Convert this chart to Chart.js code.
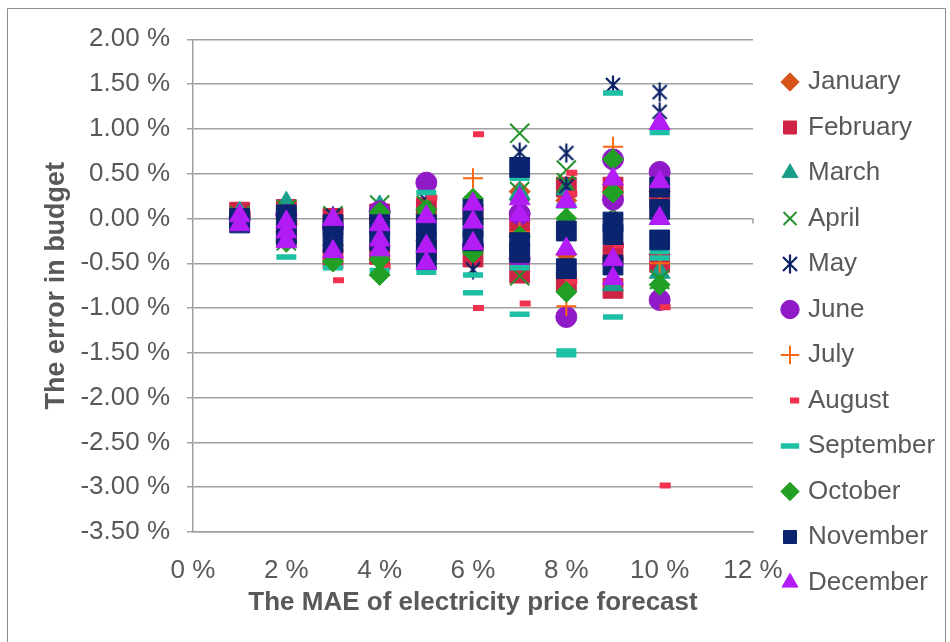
<!DOCTYPE html>
<html>
<head>
<meta charset="utf-8">
<script src="https://cdn.jsdelivr.net/npm/chart.js@4/dist/chart.umd.min.js"></script>
<style>
  html, body { margin: 0; padding: 0; background: #fff; }
  canvas { display: block; }
</style>
</head>
<body>
<canvas id="myChart" width="950" height="642"></canvas>
<script>
// MAE levels on the x axis (%)
var maeLevels = [1, 2, 3, 4, 5, 6, 7, 8, 9, 10];

// budget error (%) per month, one list per MAE level
var january   = [[0.02], [0.05, -0.15], [-0.1, -0.3], [0.0, -0.3], [0.05, -0.25], [0.1, -0.3], [0.3, -0.3], [0.2, -0.4], [0.3, -0.45], [0.3, -0.4]];
var february  = [[0.07], [0.1, -0.2], [0.0, -0.45], [0.05, -0.4], [0.12, -0.35], [0.05, -0.43], [-0.1, -0.61], [0.35, -0.7], [0.35, -0.41, -0.78], [0.24, -0.49]];
var march     = [[0.06], [0.17], [-0.05], [0.13], [0.05], [0.0], [0.28], [0.33], [-0.74], [0.0, -0.6]];
var april     = [[0.03], [0.1, -0.25], [0.03], [0.15, -0.52], [0.15], [-0.3], [0.95, 0.3, -0.64], [0.54, 0.4], [0.1], [-0.68]];
var may       = [[0.02], [0.0], [0.03], [0.08], [0.2], [-0.57], [0.74], [0.73, 0.36], [1.49], [1.41, 1.19]];
var june      = [[0.0], [0.04], [-0.1], [0.08], [0.4], [-0.3], [0.05, -0.45], [-1.1], [0.66, 0.21], [0.52, -0.91]];
var july      = [[0.0], [-0.1], [-0.2], [-0.1], [0.0], [0.45], [-0.15], [-0.65, -0.98], [0.8, -0.6], [0.25, -0.5]];
var august    = [[0.05], [-0.05], [-0.69], [-0.54], [0.23], [0.94, -1.0], [-0.95], [0.51, 0.28, -0.7], [-0.3], [-0.99, -2.98]];
var september = [[-0.03], [-0.27, -0.43], [-0.55], [-0.58], [0.29, -0.6], [-0.63, -0.83], [0.45, -0.55, -1.07], [0.14, -1.48, -1.52], [1.4, -1.1], [0.96, -0.37, -0.44]];
var october   = [[-0.02], [-0.26], [-0.48], [0.07, -0.46, -0.63], [0.1], [0.22, -0.38], [-0.2], [0.0, -0.82], [0.66, 0.29], [-0.74]];
var november  = [[0.0, -0.05], [0.04, -0.18], [-0.07, -0.27], [-0.07, -0.25], [-0.07, -0.27, -0.46], [0.1, -0.1, -0.25], [0.57, -0.27, -0.38], [-0.14, -0.56], [-0.04, -0.18, -0.52], [0.35, 0.1, -0.24]];
var december  = [[0.03, -0.07], [-0.04, -0.15, -0.26], [-0.01, -0.37], [-0.07, -0.24, -0.35], [0.02, -0.31, -0.5], [0.16, -0.04, -0.28], [0.22, 0.04], [0.19, -0.34], [0.44, -0.46, -0.67], [1.06, 0.41, 0.0]];

var monthNames = ['January', 'February', 'March', 'April', 'May', 'June', 'July', 'August', 'September', 'October', 'November', 'December'];
var monthValues = [january, february, march, april, may, june, july, august, september, october, november, december];

var textColor = '#595959';
var gridColor = '#a0a0a0';

// asterisk marker (x with a vertical bar)
function starMarker(color) {
	var c = document.createElement('canvas');
	c.width = 20; c.height = 20;
	var g = c.getContext('2d');
	g.strokeStyle = color;
	g.lineWidth = 2.2;
	g.beginPath();
	g.moveTo(3, 3); g.lineTo(17, 17);
	g.moveTo(17, 3); g.lineTo(3, 17);
	g.moveTo(10, 0.5); g.lineTo(10, 19.5);
	g.stroke();
	return c;
}

// marker look for each month
var markers = [
	{ pointStyle: 'rectRot', color: '#d6541a', radius: 10.5, borderWidth: 1 },
	{ pointStyle: 'rect', color: '#cf2346', radius: 14, borderWidth: 1 },
	{ pointStyle: 'triangle', color: '#199e8a', radius: 12, borderWidth: 1 },
	{ pointStyle: 'crossRot', color: '#22922a', radius: 13.5, borderWidth: 2 },
	{ pointStyle: starMarker('#0c2266'), color: '#0c2266', radius: 10, borderWidth: 2 },
	{ pointStyle: 'circle', color: '#9019c8', radius: 10.5, borderWidth: 1 },
	{ pointStyle: 'cross', color: '#ff6611', radius: 10, borderWidth: 2 },
	{ pointStyle: 'dash', color: '#f2324f', radius: 11, borderWidth: 6 },
	{ pointStyle: 'line', color: '#1dbfa5', radius: 10, borderWidth: 5.5 },
	{ pointStyle: 'rectRot', color: '#22a025', radius: 10.5, borderWidth: 1 },
	{ pointStyle: 'rect', color: '#0a2470', radius: 14, borderWidth: 1 },
	{ pointStyle: 'triangle', color: '#b31cf5', radius: 12, borderWidth: 1 }
];

function toPoints(perLevel) {
	var pts = [];
	perLevel.forEach(function (vals, i) {
		vals.forEach(function (v) { pts.push({ x: maeLevels[i], y: v }); });
	});
	return pts;
}

var datasets = monthNames.map(function (name, i) {
	var m = markers[i];
	return {
		label: name,
		data: toPoints(monthValues[i]),
		pointStyle: m.pointStyle,
		pointRadius: m.radius,
		pointHoverRadius: m.radius,
		backgroundColor: m.color,
		borderColor: m.color,
		borderWidth: m.borderWidth,
		order: monthNames.length - i // later months drawn on top
	};
});

// frame, legend placement and the small ticks on the zero line
var chartDecor = {
	id: 'chartDecor',
	beforeDraw: function (chart) {
		var ctx = chart.ctx;
		ctx.save();
		ctx.fillStyle = '#fff';
		ctx.fillRect(0, 0, chart.width, chart.height);
		ctx.strokeStyle = '#8c8c8c';
		ctx.lineWidth = 1;
		ctx.beginPath();
		ctx.moveTo(7.5, chart.height + 5);
		ctx.lineTo(7.5, 8.5);
		ctx.lineTo(945.5, 8.5);
		ctx.lineTo(945.5, chart.height + 5);
		ctx.stroke();
		ctx.restore();
	},
	beforeLayout: function (chart) {
		var lg = chart.legend;
		if (lg && !lg._fixedFit) {
			var fit0 = lg.fit;
			lg.fit = function () { fit0.call(this); this.width = 197; };
			lg._fixedFit = true;
		}
	},
	afterLayout: function (chart) {
		var lg = chart.legend;
		lg.left = 765.5; lg.right = 950;
		lg.top = 49.5; lg.bottom = 642;
	},
	beforeDatasetsDraw: function (chart) {
		var x = chart.scales.x, y = chart.scales.y;
		var ctx = chart.ctx;
		var y0 = y.getPixelForValue(0);
		ctx.save();
		ctx.strokeStyle = gridColor;
		ctx.lineWidth = 1.5;
		ctx.beginPath();
		for (var t = 2; t <= 12; t += 2) {
			var px = x.getPixelForValue(t);
			ctx.moveTo(px, y0);
			ctx.lineTo(px, y0 + 5);
		}
		ctx.stroke();
		ctx.restore();
	}
};

Chart.defaults.font.family = '"Liberation Sans", Arial, sans-serif';
Chart.defaults.color = textColor;

var ctx = document.getElementById('myChart').getContext('2d');
var myChart = new Chart(ctx, {
	type: 'scatter',
	data: { datasets: datasets },
	options: {
		responsive: false,
		animation: false,
		devicePixelRatio: 1,
		layout: { padding: { top: 39.3, left: 0, right: 0, bottom: 0 } },
		plugins: {
			tooltip: { enabled: false },
			legend: {
				position: 'right',
				align: 'start',
				labels: {
					usePointStyle: true,
					boxWidth: 10,
					boxHeight: 13,
					padding: 19.5,
					color: textColor,
					font: { size: 26 },
					sort: function (a, b) { return a.datasetIndex - b.datasetIndex; }
				}
			}
		},
		scales: {
			x: {
				type: 'linear',
				min: 0,
				max: 12,
				ticks: {
					stepSize: 2,
					padding: 15,
					color: textColor,
					font: { size: 26 },
					callback: function (v) { return v + ' %'; }
				},
				grid: { display: false },
				border: { display: true, color: gridColor, width: 1.5 },
				title: {
					display: true,
					text: 'The MAE of electricity price forecast',
					color: textColor,
					font: { size: 26, weight: 'bold', lineHeight: 1 },
					padding: { top: 0, bottom: 26 }
				},
				afterFit: function (s) { s.height = 110; }
			},
			y: {
				min: -3.5,
				max: 2,
				ticks: {
					stepSize: 0.5,
					padding: 17,
					color: textColor,
					font: { size: 26 },
					callback: function (v) { return v.toFixed(2) + ' %'; }
				},
				grid: { color: gridColor, lineWidth: 1.5, tickLength: 6, drawTicks: true },
				border: { color: gridColor, width: 1.5 },
				title: {
					display: true,
					text: 'The error in budget',
					color: textColor,
					font: { size: 27, weight: 'bold', lineHeight: 1 },
					padding: { top: 43.5, bottom: 0 }
				},
				afterFit: function (s) { s.width = 193; }
			}
		}
	},
	plugins: [chartDecor]
});
</script>
</body>
</html>
